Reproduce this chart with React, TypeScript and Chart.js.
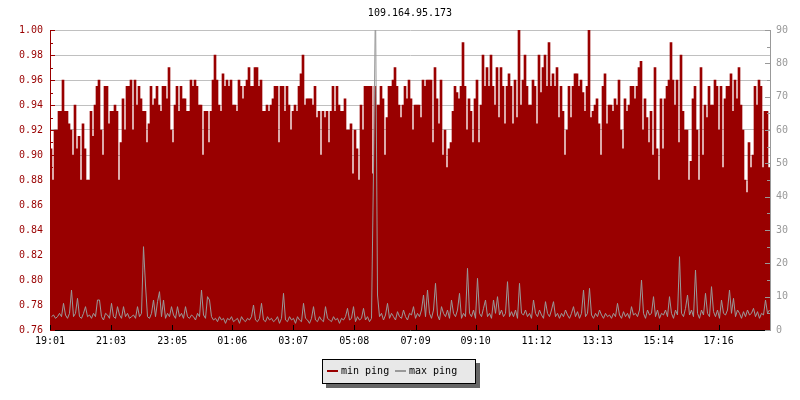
import React, { useEffect, useRef } from "react";
import { Chart, registerables } from "chart.js";

Chart.register(...registerables);

const TITLE = "109.164.95.173";
const SERIES_NAMES = ["min ping", "max ping"];
const TICK_LABELS = ["19:01", "21:03", "23:05", "01:06", "03:07", "05:08", "07:09", "09:10", "11:12", "13:13", "15:14", "17:16"];
// positions of the time labels, in sample-index units
const TICK_POS = [-0.5, 30, 60.6, 90.6, 121.1, 151.6, 182.3, 212.3, 242.8, 273.3, 303.8, 333.8];
const LEFT_TICKS = [0.76, 0.78, 0.8, 0.82, 0.84, 0.86, 0.88, 0.9, 0.92, 0.94, 0.96, 0.98, 1.0];
const RIGHT_TICKS = [0, 10, 20, 30, 40, 50, 60, 70, 80, 90];

const MIN_PING = [
  0.905, 0.88, 0.92, 0.92, 0.935, 0.935, 0.96, 0.935, 0.935, 0.925,
  0.92, 0.90, 0.94, 0.905, 0.915, 0.88, 0.925, 0.905, 0.88, 0.88,
  0.935, 0.915, 0.94, 0.955, 0.96, 0.92, 0.90, 0.955, 0.955, 0.925,
  0.935, 0.935, 0.94, 0.935, 0.88, 0.91, 0.945, 0.92, 0.955, 0.955,
  0.96, 0.92, 0.96, 0.94, 0.955, 0.945, 0.935, 0.935, 0.91, 0.925,
  0.955, 0.94, 0.945, 0.955, 0.94, 0.935, 0.955, 0.955, 0.945, 0.97,
  0.92, 0.91, 0.94, 0.955, 0.935, 0.955, 0.945, 0.945, 0.935, 0.935,
  0.96, 0.955, 0.96, 0.955, 0.94, 0.94, 0.90, 0.935, 0.935, 0.91,
  0.935, 0.96, 0.98, 0.96, 0.94, 0.935, 0.965, 0.955, 0.96, 0.955,
  0.96, 0.94, 0.94, 0.935, 0.96, 0.955, 0.945, 0.955, 0.96, 0.97,
  0.955, 0.955, 0.97, 0.97, 0.955, 0.96, 0.935, 0.935, 0.94, 0.935,
  0.94, 0.945, 0.955, 0.955, 0.91, 0.955, 0.955, 0.935, 0.955, 0.94,
  0.92, 0.935, 0.94, 0.935, 0.955, 0.965, 0.98, 0.94, 0.945, 0.945,
  0.945, 0.94, 0.955, 0.93, 0.935, 0.90, 0.935, 0.93, 0.935, 0.91,
  0.935, 0.955, 0.935, 0.955, 0.94, 0.935, 0.935, 0.945, 0.92, 0.92,
  0.925, 0.885, 0.92, 0.905, 0.88, 0.94, 0.92, 0.955, 0.955, 0.955,
  0.955, 0.885, 0.955, 0.94, 0.94, 0.955, 0.945, 0.90, 0.93, 0.955,
  0.955, 0.96, 0.97, 0.955, 0.94, 0.93, 0.94, 0.955, 0.945, 0.96,
  0.945, 0.92, 0.94, 0.94, 0.94, 0.93, 0.96, 0.955, 0.96, 0.96,
  0.96, 0.91, 0.97, 0.945, 0.925, 0.96, 0.90, 0.92, 0.89, 0.905,
  0.91, 0.935, 0.955, 0.95, 0.945, 0.955, 0.99, 0.955, 0.92, 0.945,
  0.935, 0.91, 0.945, 0.96, 0.91, 0.94, 0.98, 0.955, 0.97, 0.955,
  0.98, 0.955, 0.94, 0.97, 0.93, 0.97, 0.955, 0.925, 0.955, 0.965,
  0.955, 0.925, 0.96, 0.93, 1.00, 0.94, 0.96, 0.98, 0.955, 0.94,
  0.94, 0.96, 0.955, 0.925, 0.98, 0.95, 0.97, 0.98, 0.955, 0.99,
  0.955, 0.965, 0.955, 0.97, 0.93, 0.955, 0.935, 0.90, 0.92, 0.955,
  0.93, 0.955, 0.965, 0.965, 0.955, 0.96, 0.95, 0.935, 0.955, 1.00,
  0.93, 0.935, 0.94, 0.945, 0.925, 0.90, 0.955, 0.965, 0.925, 0.94,
  0.94, 0.935, 0.945, 0.94, 0.96, 0.92, 0.905, 0.945, 0.935, 0.94,
  0.955, 0.955, 0.945, 0.955, 0.97, 0.975, 0.92, 0.945, 0.93, 0.91,
  0.935, 0.90, 0.97, 0.905, 0.88, 0.945, 0.905, 0.945, 0.955, 0.96,
  0.99, 0.96, 0.94, 0.96, 0.91, 0.98, 0.935, 0.92, 0.92, 0.88,
  0.895, 0.945, 0.955, 0.92, 0.88, 0.97, 0.90, 0.94, 0.93, 0.955,
  0.94, 0.94, 0.96, 0.955, 0.92, 0.955, 0.89, 0.945, 0.955, 0.955,
  0.965, 0.935, 0.96, 0.945, 0.97, 0.94, 0.92, 0.88, 0.87, 0.91,
  0.89, 0.90, 0.955, 0.94, 0.96, 0.955, 0.89, 0.935, 0.935, 0.89,
];

const MAX_PING = [
  4, 4.5, 3.5, 4, 5, 4, 8, 4.5, 3.5, 5,
  12, 4, 5, 9.5, 4, 3.5, 5, 7, 4, 4.5,
  3.5, 5, 4, 9, 9, 4, 3, 5, 4.5, 3.5,
  8, 4, 3.5, 7, 4.5, 3.5, 7, 4, 5, 3.5,
  4, 4.5, 3.5, 7, 4, 5, 25, 13.5, 4, 3.5,
  5, 9, 4, 8.5, 11.5, 4, 9, 3.5, 5, 4,
  7, 4.5, 3.5, 7, 4, 5, 3.5, 7, 4, 3.5,
  4.5, 4, 3, 5, 4, 12, 4.5, 3.5, 10, 9,
  4, 3, 3.5, 2.5, 4, 3, 3.5, 2, 3.5, 3,
  4, 2.5, 3, 3.5, 2, 4, 3, 2.5, 3.5, 3,
  4, 7.5, 3, 2.5, 3.5, 8, 3, 2.5, 4, 3,
  3.5, 2.5, 3, 4, 2, 3.5, 11, 3, 2.5, 4,
  3, 3.5, 2, 4, 3, 2.5, 8, 3.5, 3, 2,
  3.5, 7, 3, 2.5, 4, 3, 2.5, 7, 3.5, 3,
  2.5, 4, 3, 3.5, 2, 3.5, 3, 4, 6.5, 3,
  3.5, 7, 2.5, 4, 3, 3.5, 6.5, 3, 4, 2.5,
  3.5, 48, 100, 10.5, 4, 5, 3, 4.5, 8, 3.5,
  5, 4, 3, 5.5, 4, 3.5, 6, 4, 3, 5,
  4.5, 7, 3.5, 5, 4, 6, 10.5, 4, 12, 5,
  3.5, 6, 14, 4.5, 3, 7, 5, 4, 6, 3.5,
  9, 5, 4, 6, 11, 3.5, 5, 4, 18.5, 5,
  4, 6, 3.5, 15.5, 5, 4, 6.5, 9, 4, 5,
  3.5, 9, 5, 10, 4.5, 6, 4, 5, 14.5, 4,
  5.5, 4, 6, 3.5, 14, 5, 4.5, 6, 4, 5,
  3.5, 9, 5, 4, 6, 4.5, 3.5, 8.5, 5, 4,
  6, 8.5, 4, 5, 3.5, 5, 4, 6, 4.5, 3.5,
  5, 7, 4, 5.5, 3.5, 5, 12, 4, 5, 12.5,
  4.5, 3.5, 5, 4, 6, 4.5, 3.5, 5, 4, 4.5,
  3.5, 5, 4, 8, 4.5, 3.5, 5.5, 4, 5, 3.5,
  7, 4.5, 5, 4, 6, 15, 5, 3.5, 6, 4.5,
  5, 10, 4, 6, 3.5, 5, 4.5, 6, 4, 10,
  5, 3.5, 6, 4.5, 22, 5, 4, 6.5, 10.5, 4.5,
  6, 4, 18, 5, 3.5, 6, 4.5, 11, 5, 4,
  13, 5.5, 4, 6, 3.5, 9, 5, 4.5, 6, 12,
  5, 9.5, 4, 6, 5, 3.5, 5.5, 4, 6, 4.5,
  5, 6.5, 4, 5.5, 3.5, 5, 4.5, 9, 5, 6,
];

const RED = "#990000";
const GRAY = "#999999";
const FONT_FAMILY = "'DejaVu Sans Mono', monospace";

// shift the thin line by half a pixel so its strokes land on whole pixels
const crispLinePlugin = {
  id: "crispLine",
  beforeDatasetDraw(chart: any, args: any) {
    if (args.meta.type === "line") {
      chart.ctx.save();
      chart.ctx.translate(0.5, 0);
    }
  },
  afterDatasetDraw(chart: any, args: any) {
    if (args.meta.type === "line") chart.ctx.restore();
  },
};

const decorPlugin = {
  id: "decor",
  afterDraw(chart: any) {
    const { ctx, chartArea, scales } = chart;
    ctx.save();
    ctx.font = `10px ${FONT_FAMILY}`;
    ctx.fillStyle = "#000";
    ctx.textAlign = "center";
    ctx.textBaseline = "middle";
    ctx.fillText(TITLE, (chartArea.left + chartArea.right) / 2, 13.5);

    ctx.lineWidth = 1;
    ctx.strokeStyle = RED;
    for (let k = 0; k < LEFT_TICKS.length; k++) {
      const y = Math.round(scales.y.getPixelForValue(LEFT_TICKS[k])) + 0.5;
      ctx.beginPath();
      ctx.moveTo(chartArea.left, y);
      ctx.lineTo(chartArea.left + 5, y);
      ctx.stroke();
      if (k < LEFT_TICKS.length - 1) {
        const ym = Math.round(scales.y.getPixelForValue((LEFT_TICKS[k] + LEFT_TICKS[k + 1]) / 2)) + 0.5;
        ctx.beginPath();
        ctx.moveTo(chartArea.left, ym);
        ctx.lineTo(chartArea.left + 3, ym);
        ctx.stroke();
      }
    }
    ctx.strokeStyle = GRAY;
    for (let k = 0; k < RIGHT_TICKS.length; k++) {
      const y = Math.round(scales.y2.getPixelForValue(RIGHT_TICKS[k])) + 0.5;
      ctx.beginPath();
      ctx.moveTo(chartArea.right, y);
      ctx.lineTo(chartArea.right - 5, y);
      ctx.stroke();
      if (k < RIGHT_TICKS.length - 1) {
        const ym = Math.round(scales.y2.getPixelForValue((RIGHT_TICKS[k] + RIGHT_TICKS[k + 1]) / 2)) + 0.5;
        ctx.beginPath();
        ctx.moveTo(chartArea.right, ym);
        ctx.lineTo(chartArea.right - 3, ym);
        ctx.stroke();
      }
    }
    ctx.strokeStyle = "#000";
    for (const p of TICK_POS) {
      const x = Math.round(scales.x.getPixelForValue(p)) + 0.5;
      ctx.beginPath();
      ctx.moveTo(x, chartArea.bottom);
      ctx.lineTo(x, chartArea.bottom - 5);
      ctx.stroke();
    }
    ctx.restore();
  },
};

export default function App() {
  const canvasRef = useRef<HTMLCanvasElement | null>(null);

  useEffect(() => {
    document.body.style.margin = "0";
    const canvas = canvasRef.current;
    if (!canvas) return;
    const font = { family: FONT_FAMILY, size: 10 };
    const chart = new Chart(canvas, {
      type: "bar",
      data: {
        datasets: [
          {
            type: "line",
            label: SERIES_NAMES[1],
            data: MAX_PING.map((v, i) => ({ x: i, y: v })),
            yAxisID: "y2",
            xAxisID: "x",
            borderColor: GRAY,
            backgroundColor: GRAY,
            borderWidth: 1,
            pointRadius: 0,
            tension: 0,
            order: 0,
          },
          {
            type: "bar",
            label: SERIES_NAMES[0],
            data: MIN_PING.map((v, i) => ({ x: i, y: v })),
            yAxisID: "y",
            xAxisID: "x",
            backgroundColor: RED,
            borderWidth: 0,
            barPercentage: 1,
            categoryPercentage: 1,
            order: 1,
          },
        ],
      } as any,
      plugins: [crispLinePlugin, decorPlugin],
      options: {
        responsive: false,
        animation: false,
        devicePixelRatio: 1,
        layout: { padding: { top: 30, left: 0, right: 0, bottom: 0 } },
        plugins: {
          legend: { display: false },
          title: { display: false },
          tooltip: { enabled: false },
        },
        scales: {
          x: {
            type: "linear",
            position: "bottom",
            min: -0.5,
            max: MIN_PING.length - 0.5,
            offset: false,
            grid: { display: true, drawOnChartArea: false, drawTicks: false, color: "#000" },
            border: { display: true, color: "#000", width: 1 },
            ticks: {
              color: "#000",
              font,
              padding: 5,
              maxRotation: 0,
              autoSkip: false,
              callback: (_v: any, i: number) => TICK_LABELS[i],
            },
            afterBuildTicks: (s: any) => {
              s.ticks = TICK_POS.map((v) => ({ value: v }));
            },
            afterFit: (s: any) => {
              s.height = 70;
            },
          },
          y: {
            type: "linear",
            position: "left",
            min: 0.76,
            max: 1.0,
            grid: { color: "#c0c0c0", drawTicks: false },
            border: { display: true, color: RED, width: 1 },
            ticks: {
              color: RED,
              font,
              padding: 7,
              callback: (v: any) => Number(v).toFixed(2),
            },
            afterBuildTicks: (s: any) => {
              s.ticks = LEFT_TICKS.map((v) => ({ value: v }));
            },
            afterFit: (s: any) => {
              s.width = 50;
            },
          },
          y2: {
            type: "linear",
            position: "right",
            min: 0,
            max: 90,
            grid: { drawOnChartArea: false, drawTicks: false },
            border: { display: true, color: GRAY, width: 1 },
            ticks: { color: GRAY, font, padding: 6 },
            afterBuildTicks: (s: any) => {
              s.ticks = RIGHT_TICKS.map((v) => ({ value: v }));
            },
            afterFit: (s: any) => {
              s.width = 30;
            },
          },
        },
      } as any,
    });
    return () => chart.destroy();
  }, []);

  const textStyle: React.CSSProperties = {
    position: "absolute",
    top: 5,
    fontFamily: FONT_FAMILY,
    fontSize: 10,
    lineHeight: "12px",
    color: "#000",
    whiteSpace: "pre",
  };

  return (
    <div style={{ position: "relative", width: 800, height: 400, background: "#fff" }}>
      <canvas ref={canvasRef} width={800} height={400} style={{ display: "block", width: 800, height: 400 }} />
      <div
        style={{
          position: "absolute",
          left: 322,
          top: 359,
          width: 154,
          height: 25,
          boxSizing: "border-box",
          border: "1px solid #000",
          background: "#e8e8e8",
          boxShadow: "4px 4px 0 #666",
        }}
      >
        <div style={{ position: "absolute", left: 4, top: 10, width: 11, height: 2, background: RED }} />
        <div style={{ ...textStyle, left: 18 }}>{SERIES_NAMES[0]}</div>
        <div style={{ position: "absolute", left: 72, top: 10, width: 11, height: 2, background: GRAY }} />
        <div style={{ ...textStyle, left: 86 }}>{SERIES_NAMES[1]}</div>
      </div>
    </div>
  );
}
